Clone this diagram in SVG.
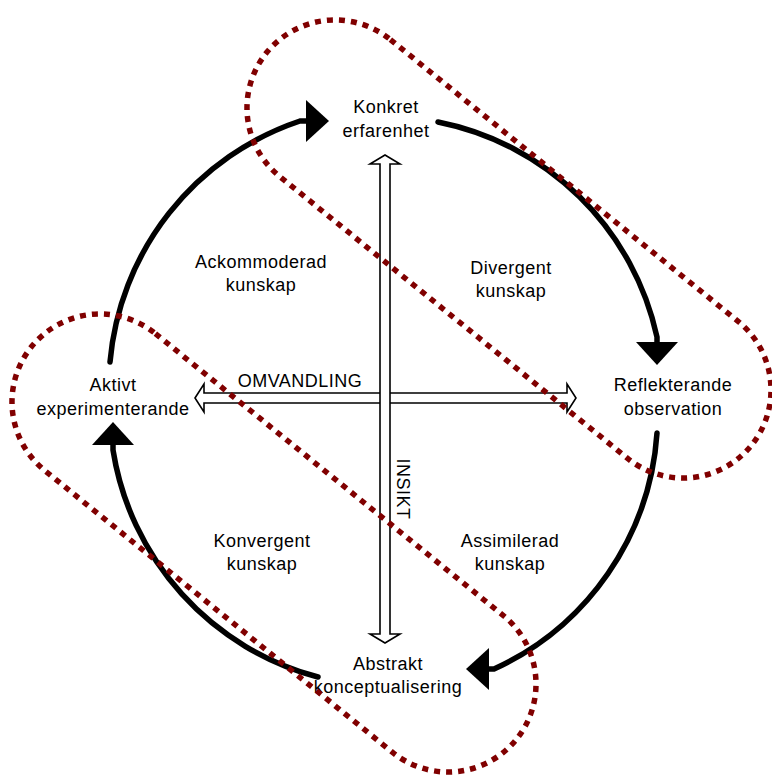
<svg xmlns="http://www.w3.org/2000/svg" width="772" height="775" viewBox="0 0 772 775">
<defs>
<style>
.lbl{font-family:"Liberation Sans",Arial,sans-serif;font-size:18px;letter-spacing:0.5px;fill:#000;text-anchor:middle}
.cyc{fill:none;stroke:#000;stroke-width:5.5;stroke-linecap:round;marker-end:url(#head)}
.dbl{fill:#fff;stroke:#000;stroke-width:1.6;stroke-linejoin:miter}
.dot{fill:none;stroke:#800000;stroke-width:5.5;stroke-dasharray:6 6}
</style>
<marker id="head" markerUnits="userSpaceOnUse" markerWidth="30" markerHeight="50" viewBox="0 -25 30 50" refX="0" refY="0" orient="auto" overflow="visible">
<path d="M-1,-21 L22,0 L-1,21 Z" fill="#000"/>
</marker>
</defs>
<rect width="772" height="775" fill="#fff"/>
<g id="axes">
<path class="dbl" d="M195,398 L204,384 L204,393 L567,393 L567,384 L576,398 L567,412 L567,403 L204,403 L204,412 Z"/>
<path class="dbl" d="M385,155 L400,164 L390,164 L390,634 L400,634 L385,643 L370,634 L380,634 L380,164 L370,164 Z"/>
</g>
<g id="connectors">
<path class="cyc" d="M110,362 A280,280 0 0 1 300,121 L307,121"/>
<path class="cyc" d="M438,122 A280,280 0 0 1 657,337 L657,343"/>
<path class="cyc" d="M657,433 A280,280 0 0 1 494,669 L488,669"/>
<path class="cyc" d="M318,677 A280,280 0 0 1 113,450 L113,444"/>
</g>
<g id="konkret"><text class="lbl" x="386" y="113">Konkret</text><text class="lbl" x="386" y="137">erfarenhet</text></g>
<g id="reflekterande"><text class="lbl" x="673" y="391">Reflekterande</text><text class="lbl" x="673" y="415">observation</text></g>
<g id="abstrakt"><text class="lbl" x="388" y="670">Abstrakt</text><text class="lbl" x="388" y="693">konceptualisering</text></g>
<g id="aktivt"><text class="lbl" x="113" y="391">Aktivt</text><text class="lbl" x="113" y="415">experimenterande</text></g>
<g id="ackommoderad"><text class="lbl" x="261" y="268">Ackommoderad</text><text class="lbl" x="261" y="291">kunskap</text></g>
<g id="divergent"><text class="lbl" x="511" y="274">Divergent</text><text class="lbl" x="511" y="297">kunskap</text></g>
<g id="konvergent"><text class="lbl" x="262" y="547">Konvergent</text><text class="lbl" x="262" y="570">kunskap</text></g>
<g id="assimilerad"><text class="lbl" x="510" y="547">Assimilerad</text><text class="lbl" x="510" y="570">kunskap</text></g>
<g id="omvandling"><text class="lbl" x="300" y="387">OMVANDLING</text></g>
<g id="insikt"><text class="lbl" transform="translate(397,489) rotate(90)" x="0" y="0">INSIKT</text></g>
<g id="dotted-regions">
<path class="dot" d="M390.4,39.6 L738.4,321.6 A88,88 0 0 1 627.6,458.4 L279.6,176.4 A88,88 0 0 1 390.4,39.6 Z"/>
<path class="dot" d="M155.4,333.6 L503.4,615.6 A88,88 0 0 1 392.6,752.4 L44.6,470.4 A88,88 0 0 1 155.4,333.6 Z"/>
</g>
</svg>
